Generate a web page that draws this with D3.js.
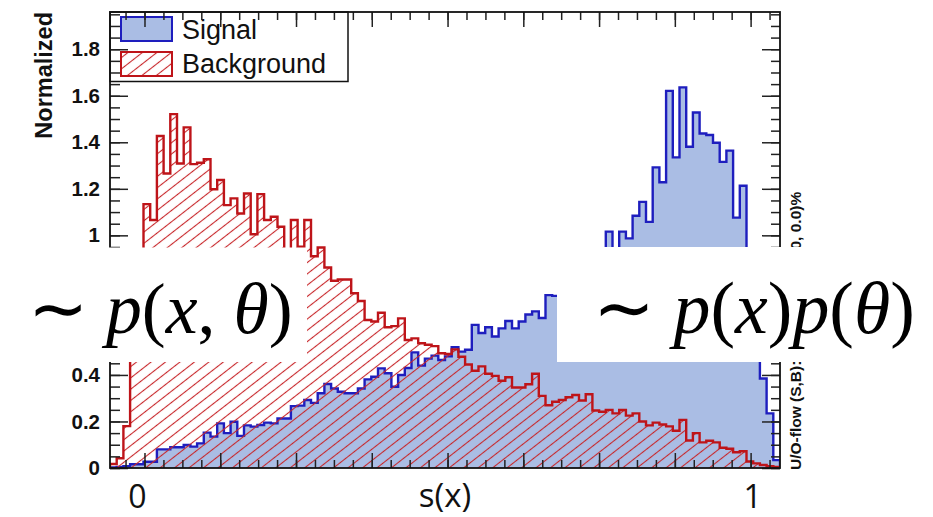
<!DOCTYPE html>
<html><head><meta charset="utf-8">
<script src="https://cdn.jsdelivr.net/npm/d3@7"></script>
<style>body{margin:0;background:#fff} svg{display:block}</style>
</head><body>
<svg id="c" width="933" height="517"></svg>
<script>
// ---------------- data ----------------
const nBins = 100;
const xRange = [-0.0569, 1.0485];
const yMax = 1.96;
const signalValues = [
0.002,0.004,0.008,0.016,0.016,0.027,0.027,0.080,0.080,0.089,
0.089,0.099,0.092,0.106,0.152,0.135,0.192,0.150,0.199,0.138,
0.183,0.178,0.185,0.195,0.192,0.213,0.213,0.266,0.268,0.292,
0.280,0.321,0.361,0.342,0.328,0.321,0.321,0.342,0.381,0.392,
0.428,0.407,0.349,0.400,0.430,0.497,0.440,0.470,0.483,0.464,
0.480,0.519,0.500,0.508,0.615,0.580,0.605,0.565,0.600,0.632,
0.600,0.630,0.660,0.673,0.645,0.743,0.740,0.760,0.800,0.780,
0.840,0.860,0.900,0.880,1.016,0.920,1.016,0.987,1.084,1.144,
1.058,1.292,1.228,1.621,1.335,1.636,1.381,1.528,1.438,1.431,
1.398,1.316,1.364,1.076,1.213,0.800,0.600,0.385,0.235,0.034];
const backgroundValues = [
0.017,0.042,0.180,0.620,0.880,1.134,1.066,1.427,1.266,1.521,
1.309,1.464,1.306,1.312,1.327,1.198,1.238,1.130,1.159,1.094,
1.180,1.005,1.177,1.066,1.080,1.037,0.900,1.066,0.951,1.066,
0.910,0.948,0.862,0.805,0.810,0.810,0.751,0.718,0.636,0.630,
0.667,0.605,0.610,0.643,0.550,0.557,0.536,0.530,0.524,0.493,
0.490,0.510,0.478,0.445,0.418,0.437,0.405,0.396,0.375,0.390,
0.346,0.346,0.360,0.405,0.310,0.270,0.285,0.292,0.304,0.314,
0.290,0.317,0.247,0.242,0.250,0.235,0.249,0.225,0.235,0.200,
0.183,0.195,0.187,0.179,0.160,0.207,0.118,0.150,0.110,0.117,
0.110,0.087,0.083,0.068,0.072,0.028,0.020,0.013,0.008,0.004];
const yTickValues = [0,0.2,0.4,0.6,0.8,1,1.2,1.4,1.6,1.8];
const yTickLabels = ["0","0.2","0.4","0.6","0.8","1","1.2","1.4","1.6","1.8"];
const yMinorTicks = d3.range(0, 1.96, 0.05);
const xMajorTicks = [0,0.125,0.25,0.375,0.5,0.625,0.75,0.875,1];
const xMinorTicks = d3.range(-0.03125, 1.04, 0.03125);
const xBigLabels = [{v:0, t:"0"}, {v:1, t:"1"}];
const xTitle = "s(x)";
const yTitle = "Normalized";
const legendLabels = ["Signal","Background"];
const overflowText = "U/O-flow (S,B): (0.0, 0.0)% / (0.0, 0.0)%";
const mathLeft = [["\u223C ",0],["p",1],["(",0],["x",1],[", ",0],["\u03B8",1],[")",0]];
const mathRight = [["\u223C ",0],["p",1],["(",0],["x",1],[")",0],["p",1],["(",0],["\u03B8",1],[")",0]];

// ---------------- layout ----------------
const F = {l:110, r:780, t:12, b:468};
const boxes = [{x:0, y:247.5, w:307, h:114.5}, {x:557, y:247, w:376, h:115}];
const sigFill = "#aabde4", sigLine = "#1e1ebe", bkgLine = "#be1419", hatchCol = "#c8262a";
const svg = d3.select("#c");
svg.append("rect").attr("width",933).attr("height",517).attr("fill","#fff");

const x = d3.scaleLinear().domain(xRange).range([F.l, F.r]);
const y = d3.scaleLinear().domain([0, yMax]).range([F.b, F.t]);
const edge = d3.scaleLinear().domain([0, nBins]).range(xRange);

const defs = svg.append("defs");
const pat = defs.append("pattern").attr("id","hatch").attr("patternUnits","userSpaceOnUse")
  .attr("width",20).attr("height",8.9).attr("patternTransform","rotate(-38)");
pat.append("line").attr("x1",-2).attr("x2",22).attr("y1",4.45).attr("y2",4.45)
  .attr("stroke",hatchCol).attr("stroke-width",1.1);
defs.append("clipPath").attr("id","frameClip").append("rect")
  .attr("x",F.l).attr("y",F.t).attr("width",F.r-F.l).attr("height",F.b-F.t);

function outlinePts(vals){
  const pts=[[edge(0),0]];
  vals.forEach((v,i)=>pts.push([edge(i),v]));
  pts.push([edge(nBins),0]);
  return pts;
}
const stepLine = d3.line().curve(d3.curveStepAfter).x(d=>x(d[0])).y(d=>y(d[1]));
const stepArea = d3.area().curve(d3.curveStepAfter).x(d=>x(d[0])).y0(y(0)).y1(d=>y(d[1]));

const g = svg.append("g").attr("clip-path","url(#frameClip)");
const sPts = outlinePts(signalValues), bPts = outlinePts(backgroundValues);
g.append("path").attr("d",stepArea(sPts)).attr("fill",sigFill);
g.append("path").attr("d",stepLine(sPts)).attr("fill","none").attr("stroke",sigLine).attr("stroke-width",2.4);
g.append("path").attr("d",stepArea(bPts)).attr("fill","url(#hatch)");
g.append("path").attr("d",stepLine(bPts)).attr("fill","none").attr("stroke",bkgLine).attr("stroke-width",2.4);

// legend
const leg = svg.append("g");
leg.append("rect").attr("x",110).attr("y",12).attr("width",238).attr("height",69.5)
  .attr("fill","#fff").attr("stroke","#111").attr("stroke-width",1.5);
leg.append("rect").attr("x",121).attr("y",17).attr("width",51).attr("height",24)
  .attr("fill",sigFill).attr("stroke",sigLine).attr("stroke-width",2);
leg.append("rect").attr("x",121).attr("y",52).attr("width",51).attr("height",24)
  .attr("fill","url(#hatch)").attr("stroke",bkgLine).attr("stroke-width",2);
leg.selectAll("text.lg").data(legendLabels).join("text").attr("class","lg")
  .attr("x",182).attr("y",(d,i)=>38.5+i*34).text(d=>d)
  .attr("font-family","Liberation Sans, Arial, sans-serif").attr("font-size",27).attr("fill","#111");

// frame and ticks
const axG = svg.append("g");
function addAxis(axis, tr, size){
  const a = axG.append("g").attr("transform",tr).call(axis.tickSize(size).tickFormat(""));
  a.select(".domain").remove();
  a.selectAll("line").attr("stroke","#222").attr("stroke-width",1.5);
}
addAxis(d3.axisBottom(x).tickValues(xMajorTicks), `translate(0,${F.b})`, -15);
addAxis(d3.axisBottom(x).tickValues(xMinorTicks), `translate(0,${F.b})`, -8);
addAxis(d3.axisTop(x).tickValues(xMajorTicks), `translate(0,${F.t})`, -15);
addAxis(d3.axisTop(x).tickValues(xMinorTicks), `translate(0,${F.t})`, -8);
addAxis(d3.axisLeft(y).tickValues(yTickValues), `translate(${F.l},0)`, -18);
addAxis(d3.axisLeft(y).tickValues(yMinorTicks), `translate(${F.l},0)`, -10);
addAxis(d3.axisRight(y).tickValues(yTickValues), `translate(${F.r},0)`, -18);
addAxis(d3.axisRight(y).tickValues(yMinorTicks), `translate(${F.r},0)`, -9);
axG.append("rect").attr("x",F.l).attr("y",F.t).attr("width",F.r-F.l).attr("height",F.b-F.t)
  .attr("fill","none").attr("stroke","#111").attr("stroke-width",1.8);

// y tick labels (those lying under the white formula box are covered, as in the original)
const coveredLeft = v => y(v) > boxes[0].y && y(v) < boxes[0].y + boxes[0].h;
const yl = svg.append("g").attr("transform",`translate(${F.l},0)`)
  .call(d3.axisLeft(y).tickValues(yTickValues.filter(v=>!coveredLeft(v))).tickSize(0).tickPadding(10)
    .tickFormat(d=>yTickLabels[yTickValues.indexOf(d)]));
yl.select(".domain").remove();
yl.selectAll("text").attr("font-family","Liberation Sans, Arial, sans-serif")
  .attr("font-weight","bold").attr("font-size",20.5).attr("fill","#111");

// y title
svg.append("text").attr("transform",`translate(52,${F.t}) rotate(-90)`).attr("text-anchor","end")
  .attr("font-family","Liberation Sans, Arial, sans-serif").attr("font-weight","bold")
  .attr("font-size",23.5).attr("fill","#111").text(yTitle);

// overflow text
svg.append("text").attr("transform",`translate(801,470) rotate(-90)`)
  .attr("font-family","Liberation Sans, Arial, sans-serif").attr("font-weight","bold")
  .attr("font-size",15.5).attr("fill","#111").text(overflowText);

// white overlay boxes with formulas
boxes.forEach(b=>svg.append("rect").attr("x",b.x).attr("y",b.y).attr("width",b.w).attr("height",b.h).attr("fill","#fff"));
function mathText(parts, left, width, base){
  const t = svg.append("text").attr("x",left).attr("y",base)
    .attr("font-family","Liberation Serif, Times New Roman, serif").attr("font-size",76).attr("fill","#000");
  parts.forEach(p=>t.append("tspan").text(p[0]).attr("font-style",p[1]?"italic":"normal"));
  const w = t.node().getComputedTextLength();
  t.attr("font-size", 76*width/w);
}
mathText(mathLeft, 28, 265, 333);
mathText(mathRight, 593, 322, 333);

// big x labels
svg.selectAll("text.xb").data(xBigLabels).join("text").attr("class","xb")
  .attr("x",d=>x(d.v)+(d.v===0?-7:2)).attr("y",508).attr("text-anchor","middle")
  .attr("font-family","Open Sans, sans-serif").attr("font-size",32).attr("fill","#111").text(d=>d.t);
svg.append("text").attr("x",445).attr("y",507).attr("text-anchor","middle")
  .attr("font-family","Open Sans, sans-serif").attr("font-size",33).attr("fill","#111").text(xTitle);
</script>
</body></html>
